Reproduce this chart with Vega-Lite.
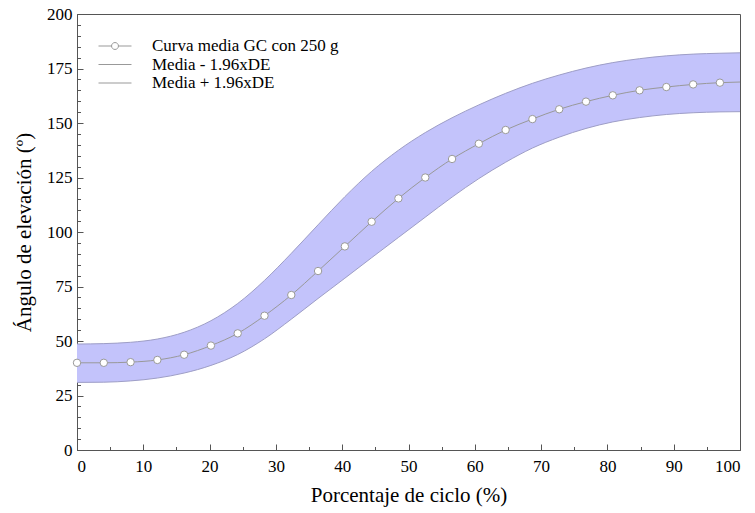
{
  "$schema": "https://vega.github.io/schema/vega-lite/v6.json",
  "width": 663,
  "height": 436,
  "autosize": {"type": "none"},
  "padding": {"left": 77, "top": 14, "right": 15, "bottom": 63},
  "background": "white",
  "config": {
    "view": {"stroke": "#555", "strokeWidth": 1},
    "font": "Liberation Serif",
    "axis": {
      "domainColor": "#555",
      "tickColor": "#555",
      "grid": false,
      "labelFont": "Liberation Serif",
      "labelFontSize": 17,
      "labelColor": "black",
      "titleFont": "Liberation Serif",
      "titleFontSize": 21,
      "titleFontWeight": "normal",
      "titleColor": "black"
    }
  },
  "data": {
    "values": [
      {"x": 0, "mean": 40.0, "lower": 31.0, "upper": 48.6, "serie": "Curva media GC con 250 g"},
      {"x": 4.04, "mean": 40.0, "lower": 31.1, "upper": 48.8, "serie": "Curva media GC con 250 g"},
      {"x": 8.08, "mean": 40.3, "lower": 31.7, "upper": 49.4, "serie": "Curva media GC con 250 g"},
      {"x": 12.12, "mean": 41.3, "lower": 33.0, "upper": 50.9, "serie": "Curva media GC con 250 g"},
      {"x": 16.16, "mean": 43.7, "lower": 35.3, "upper": 54.0, "serie": "Curva media GC con 250 g"},
      {"x": 20.2, "mean": 47.9, "lower": 38.8, "upper": 59.3, "serie": "Curva media GC con 250 g"},
      {"x": 24.24, "mean": 53.5, "lower": 43.8, "upper": 67.2, "serie": "Curva media GC con 250 g"},
      {"x": 28.28, "mean": 61.6, "lower": 51.0, "upper": 77.8, "serie": "Curva media GC con 250 g"},
      {"x": 32.32, "mean": 71.1, "lower": 60.0, "upper": 90.2, "serie": "Curva media GC con 250 g"},
      {"x": 36.36, "mean": 82.1, "lower": 69.5, "upper": 103.3, "serie": "Curva media GC con 250 g"},
      {"x": 40.4, "mean": 93.4, "lower": 78.8, "upper": 116.2, "serie": "Curva media GC con 250 g"},
      {"x": 44.44, "mean": 104.7, "lower": 88.2, "upper": 127.8, "serie": "Curva media GC con 250 g"},
      {"x": 48.48, "mean": 115.4, "lower": 97.5, "upper": 137.5, "serie": "Curva media GC con 250 g"},
      {"x": 52.53, "mean": 125.0, "lower": 106.8, "upper": 145.6, "serie": "Curva media GC con 250 g"},
      {"x": 56.57, "mean": 133.5, "lower": 116.0, "upper": 152.4, "serie": "Curva media GC con 250 g"},
      {"x": 60.61, "mean": 140.5, "lower": 124.5, "upper": 158.3, "serie": "Curva media GC con 250 g"},
      {"x": 64.65, "mean": 146.8, "lower": 132.0, "upper": 163.6, "serie": "Curva media GC con 250 g"},
      {"x": 68.69, "mean": 151.8, "lower": 138.5, "upper": 168.2, "serie": "Curva media GC con 250 g"},
      {"x": 72.73, "mean": 156.3, "lower": 143.5, "upper": 172.0, "serie": "Curva media GC con 250 g"},
      {"x": 76.77, "mean": 159.8, "lower": 147.5, "upper": 175.2, "serie": "Curva media GC con 250 g"},
      {"x": 80.81, "mean": 162.7, "lower": 150.5, "upper": 177.7, "serie": "Curva media GC con 250 g"},
      {"x": 84.85, "mean": 165.0, "lower": 152.5, "upper": 179.5, "serie": "Curva media GC con 250 g"},
      {"x": 88.89, "mean": 166.5, "lower": 153.9, "upper": 180.8, "serie": "Curva media GC con 250 g"},
      {"x": 92.93, "mean": 167.7, "lower": 154.7, "upper": 181.6, "serie": "Curva media GC con 250 g"},
      {"x": 96.97, "mean": 168.5, "lower": 155.1, "upper": 182.0, "serie": "Curva media GC con 250 g"},
      {"x": 100, "mean": 168.8, "lower": 155.2, "upper": 182.2, "serie": "Curva media GC con 250 g"}
    ]
  },
  "resolve": {"axis": {"x": "independent", "y": "independent"}},
  "layer": [
    {
      "mark": {"type": "area", "interpolate": "monotone", "color": "#c3c3fb", "opacity": 1},
      "encoding": {
        "x": {
          "field": "x", "type": "quantitative",
          "scale": {"domain": [0, 100], "nice": false, "zero": false},
          "axis": {
            "orient": "bottom",
            "values": [0, 10, 20, 30, 40, 50, 60, 70, 80, 90, 100],
            "tickSize": -6,
            "labelPadding": 14,
            "title": "Porcentaje de ciclo (%)",
            "titlePadding": 10
          }
        },
        "y": {
          "field": "lower", "type": "quantitative",
          "scale": {"domain": [0, 200], "nice": false},
          "axis": {
            "orient": "left",
            "values": [0, 25, 50, 75, 100, 125, 150, 175, 200],
            "tickSize": -6,
            "labelPadding": 11,
            "title": "Ángulo de elevación (º)",
            "titlePadding": 12
          }
        },
        "y2": {"field": "upper"}
      }
    },
    {
      "mark": {"type": "line", "interpolate": "monotone", "color": "#9e9ec6", "strokeWidth": 1},
      "encoding": {
        "x": {"field": "x", "type": "quantitative", "axis": null},
        "y": {"field": "lower", "type": "quantitative", "axis": null}
      }
    },
    {
      "mark": {"type": "line", "interpolate": "monotone", "color": "#9e9ec6", "strokeWidth": 1},
      "encoding": {
        "x": {"field": "x", "type": "quantitative", "axis": null},
        "y": {"field": "upper", "type": "quantitative", "axis": null}
      }
    },
    {
      "mark": {"type": "line", "interpolate": "monotone", "color": "#999999", "strokeWidth": 1},
      "encoding": {
        "x": {"field": "x", "type": "quantitative", "axis": null},
        "y": {"field": "mean", "type": "quantitative", "axis": null}
      }
    },
    {
      "transform": [{"filter": "datum.x < 99.5"}],
      "mark": {"type": "point", "filled": true, "fill": "white", "stroke": "#999999", "strokeWidth": 1, "opacity": 1, "size": 55, "shape": "circle"},
      "encoding": {
        "x": {
          "field": "x", "type": "quantitative",
          "axis": {
            "orient": "bottom",
            "values": [5, 15, 25, 35, 45, 55, 65, 75, 85, 95],
            "tickSize": -3.5,
            "labels": false,
            "domain": false,
            "title": null
          }
        },
        "y": {
          "field": "mean", "type": "quantitative",
          "axis": {
            "orient": "left",
            "values": [5, 10, 15, 20, 30, 35, 40, 45, 55, 60, 65, 70, 80, 85, 90, 95, 105, 110, 115, 120, 130, 135, 140, 145, 155, 160, 165, 170, 180, 185, 190, 195],
            "tickSize": -3.5,
            "labels": false,
            "domain": false,
            "title": null
          }
        }
      }
    },
    {
      "transform": [{"filter": "datum.x == 0"}],
      "mark": {"type": "point", "filled": false, "stroke": "#999999", "strokeWidth": 1, "opacity": 0, "size": 272},
      "encoding": {
        "x": {"field": "x", "type": "quantitative", "axis": null},
        "y": {"field": "mean", "type": "quantitative", "axis": null},
        "shape": {
          "field": "serie", "type": "nominal",
          "scale": {
            "domain": ["Curva media GC con 250 g", "Media - 1.96xDE", "Media + 1.96xDE"],
            "range": [
              "M-2,0H-0.42M0.42,0H2M0.42,0A0.42,0.42,0,1,1,-0.42,0A0.42,0.42,0,1,1,0.42,0",
              "M-2,0H2",
              "M-2,0H2"
            ]
          },
          "legend": {
            "orient": "none",
            "legendX": 29,
            "legendY": 23,
            "title": null,
            "padding": 0,
            "labelFont": "Liberation Serif",
            "labelFontSize": 17,
            "labelColor": "black",
            "labelLimit": 400,
            "labelOffset": 28,
            "rowPadding": 1.5,
            "symbolSize": 272,
            "symbolStrokeColor": "#999999",
            "symbolFillColor": "white",
            "symbolStrokeWidth": 1,
            "symbolOpacity": 1,
            "encode": {
              "symbols": {
                "update": {
                  "opacity": {"value": 1},
                  "stroke": {"value": "#999999"},
                  "fill": {"value": "white"},
                  "strokeWidth": {"value": 1}
                }
              }
            }
          }
        }
      }
    }
  ]
}
